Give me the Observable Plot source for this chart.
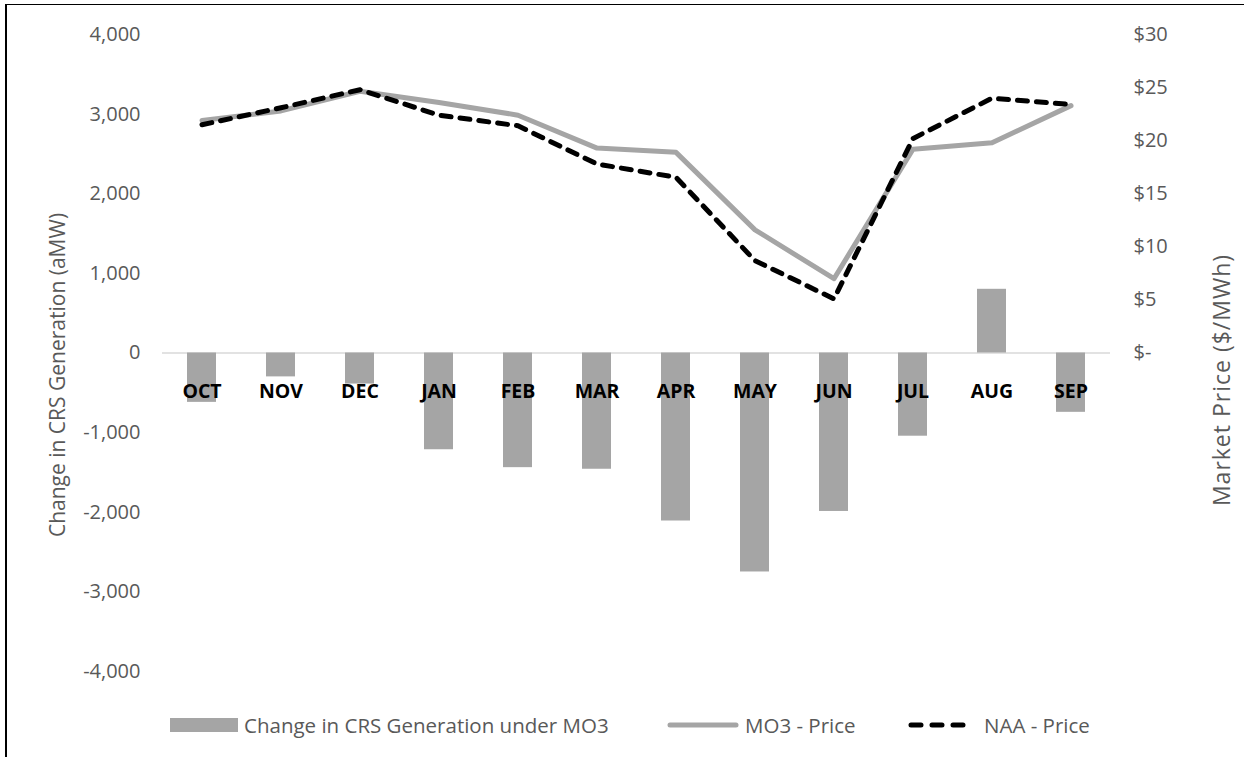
<!DOCTYPE html>
<html>
<head>
<meta charset="utf-8">
<script src="https://cdn.jsdelivr.net/npm/d3@7"></script>
<script src="https://cdn.jsdelivr.net/npm/@observablehq/plot@0.6"></script>
<style>
  html, body { margin: 0; padding: 0; background: #fff; }
  #wrap { position: relative; width: 1244px; height: 757px; overflow: hidden; font-family: "Open Sans", sans-serif; }
  #frame-top { position: absolute; left: 5px; top: 4px; width: 1239px; height: 0; border-top: 1.5px solid #000; }
  #frame-left { position: absolute; left: 5px; top: 4px; width: 0; height: 753px; border-left: 2px solid #000; }
  #legend { position: absolute; left: 0; top: 700px; width: 1244px; height: 50px; font-size: 20.5px; color: #595959; }
  .li { position: absolute; top: 11px; display: flex; align-items: center; white-space: nowrap; }
  .li svg { margin-right: 6px; }
  .axis-title-right { letter-spacing: 1px; }
</style>
</head>
<body>
<div id="wrap">
  <div id="chart"></div>
  <div id="legend"></div>
  <div id="frame-top"></div>
  <div id="frame-left"></div>
</div>
<script>
const months = ["OCT","NOV","DEC","JAN","FEB","MAR","APR","MAY","JUN","JUL","AUG","SEP"];
const genChange = [-620, -300, -390, -1215, -1440, -1460, -2110, -2750, -1990, -1045, 800, -745];
const mo3Price = [21.9, 22.8, 24.65, 23.6, 22.4, 19.3, 18.9, 11.6, 7.0, 19.2, 19.8, 23.3];
const naaPrice = [21.5, 23.1, 24.8, 22.4, 21.4, 17.8, 16.55, 8.7, 5.1, 20.2, 24.0, 23.4];
const leftTicks = [-4000, -3000, -2000, -1000, 0, 1000, 2000, 3000, 4000];
const rightTicks = [0, 5, 10, 15, 20, 25, 30];
const seriesNames = ["Change in CRS Generation under MO3", "MO3 - Price", "NAA - Price"];
const leftTitle = "Change in CRS Generation (aMW)";
const rightTitle = "Market Price ($/MWh)";

const yMax = 4000, pMax = 30;
const k = yMax / pMax; // map price to left-axis units

const bars = months.map((m, i) => ({month: m, value: genChange[i]}));
const mo3 = months.map((m, i) => ({month: m, y: mo3Price[i] * k}));
const naa = months.map((m, i) => ({month: m, y: naaPrice[i] * k}));

const font = "Open Sans, sans-serif";
const gray = "#A5A5A5";

const chart = Plot.plot({
  width: 1244,
  height: 700,
  marginTop: 34,
  marginBottom: 29,
  marginLeft: 162,
  marginRight: 134,
  style: {fontFamily: font, fontSize: "20px", background: "transparent", color: "#595959"},
  x: {domain: months, paddingInner: 0.63, paddingOuter: 0.315, axis: null},
  y: {domain: [-yMax, yMax], axis: null},
  marks: [
    Plot.ruleY([0], {stroke: "#D9D9D9", strokeWidth: 1.5}),
    Plot.barY(bars, {x: "month", y: "value", fill: gray}),
    Plot.axisY({anchor: "left", ticks: leftTicks, tickSize: 0, tickPadding: 22,
      tickFormat: d => d3.format(",")(d).replace("−", "-"), fontSize: 20, fill: "#595959", label: null}),
    Plot.axisY({anchor: "right", ticks: rightTicks.map(p => p * k), tickSize: 0, tickPadding: 23, textAnchor: "start",
      tickFormat: d => { const p = Math.round(d / k); return p === 0 ? "$-" : "$" + p; },
      fontSize: 20, fill: "#595959", label: null}),
    Plot.text(months, {x: d => d, y: () => 0, dy: 39, text: d => d, fontWeight: "bold", fontSize: 19.5, fill: "#000"}),
    Plot.line(mo3, {x: "month", y: "y", stroke: gray, strokeWidth: 5, strokeLinejoin: "round"}),
    Plot.line(naa, {x: "month", y: "y", stroke: "#000", strokeWidth: 5, strokeDasharray: "10 9", strokeLinecap: "round", strokeLinejoin: "round"}),
    Plot.text([leftTitle], {frameAnchor: "left", textAnchor: "middle", dx: -104, dy: 22, rotate: -90, fontSize: 21, fill: "#595959", text: d => d}),
    Plot.text([rightTitle], {frameAnchor: "right", textAnchor: "middle", dx: 112, dy: 27, rotate: -90, fontSize: 23, fill: "#595959", text: d => d})
  ]
});
d3.select(chart).selectAll("text").filter(function() {
  return this.textContent === rightTitle;
}).attr("class", "axis-title-right");
document.getElementById("chart").appendChild(chart);

// legend
const legend = document.getElementById("legend");
const items = [
  {left: 170, swatch: `<svg width="68" height="16"><rect x="0" y="1" width="68" height="14" fill="${gray}"/></svg>`, text: seriesNames[0]},
  {left: 667, swatch: `<svg width="72" height="16"><line x1="3" y1="8" x2="69" y2="8" stroke="${gray}" stroke-width="5" stroke-linecap="round"/></svg>`, text: seriesNames[1]},
  {left: 906, swatch: `<svg width="72" height="16"><line x1="5" y1="8" x2="68" y2="8" stroke="#000" stroke-width="5" stroke-dasharray="10 11" stroke-linecap="round"/></svg>`, text: seriesNames[2]}
];
for (const it of items) {
  const d = document.createElement("div");
  d.className = "li";
  d.style.left = it.left + "px";
  d.innerHTML = it.swatch + `<span>${it.text}</span>`;
  legend.appendChild(d);
}
</script>
</body>
</html>
